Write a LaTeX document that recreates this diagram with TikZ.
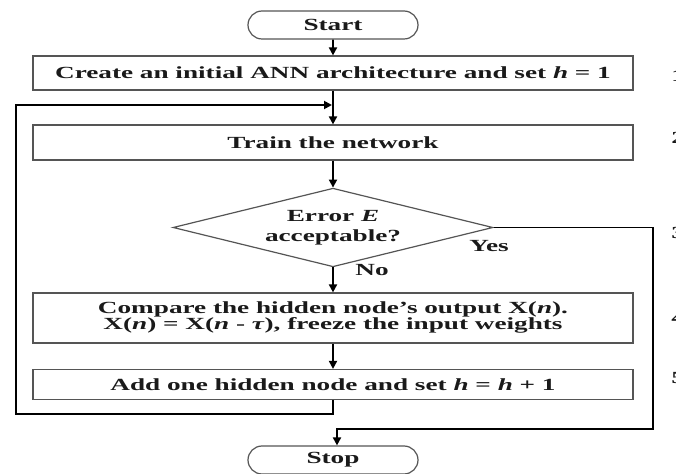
\documentclass[tikz,border=0pt]{standalone}
\usepackage{fontspec}
\setmainfont{Liberation Serif}
\usetikzlibrary{shapes.geometric,shapes.misc,arrows.meta}
\definecolor{boxgray}{HTML}{555555}
\definecolor{textc}{HTML}{1A1A1A}
\newcommand\wtxt[1]{\scalebox{1.6}[1]{#1}}
\begin{document}
\begin{tikzpicture}[x=0.75pt,y=-0.75pt,
  every node/.append style={font=\fontsize{12.75}{15}\selectfont\bfseries, text=textc},
  procbox/.style={draw=boxgray, line width=0.9pt, minimum width=450pt, inner sep=0pt, fill=white},
  term/.style={draw=boxgray, line width=0.9pt, rounded rectangle, minimum width=127.5pt, minimum height=21pt, inner sep=0pt},
  dec/.style={draw=boxgray, line width=0.9pt, diamond, aspect=3.9, minimum width=240pt, minimum height=59pt, inner sep=0pt},
  conn/.style={line width=1.4pt, draw=black},
  arr/.style={conn, -{Triangle[length=6pt,width=6pt]}},
  lbl/.style={inner sep=0pt}
]
\useasboundingbox (0,0) rectangle (676,474);
\fill[white] (0,0) rectangle (676,474);

\node[term] (start) at (333,25) {\wtxt{Start}};
\node[procbox, minimum height=25.5pt] (b1) at (333,73) {\wtxt{Create an initial ANN architecture and set \textit{h} = 1}};
\node[procbox, minimum height=26.25pt] (b2) at (333,142.5) {\wtxt{Train the network}};
\node[dec] (d) at (333,227.5) {\wtxt{\begin{tabular}{@{}c@{}}Error \textit{E}\\acceptable?\end{tabular}}};
\node[procbox, minimum height=37.5pt] (b3) at (333,318) {\wtxt{\begin{tabular}{@{}c@{}}Compare the hidden node’s output X(\textit{n}).\\[-3pt]X(\textit{n}) = X(\textit{n} - \textit{τ}), freeze the input weights\end{tabular}}};
\node[procbox, minimum height=22.5pt] (b4) at (333,384.5) {\wtxt{Add one hidden node and set \textit{h} = \textit{h} + 1}};
\node[term] (stop) at (333,460) {\wtxt{Stop}};

\node[lbl] (yes) at (489,246) {\wtxt{Yes}};
\node[lbl] (no) at (372,270) {\wtxt{No}};

\node[lbl, anchor=west] (n1) at (671,76) {\wtxt{1}};
\node[lbl, anchor=west] (n2) at (671,138) {\wtxt{2}};
\node[lbl, anchor=west] (n3) at (671,233) {\wtxt{3}};
\node[lbl, anchor=west] (n4) at (671,318) {\wtxt{4}};
\node[lbl, anchor=west] (n5) at (671,378) {\wtxt{5}};

\coordinate (jn) at (332,105);
\coordinate (lt) at (16,105);
\coordinate (lb) at (16,414);
\coordinate (yr) at (653,429);
\coordinate (yl) at (337,429);

\draw[arr] (start) -- (b1);
\draw[arr] (b1) -- (b2);
\draw[arr] (b2) -- (d);
\draw[arr] (d) -- (b3);
\draw[arr] (b3) -- (b4);
\draw[arr] (b4.south) |- (lb) -- (lt) -- (jn);
\draw[arr] (d.east) -| (yr) -- (yl) -- (yl |- stop.north);
\end{tikzpicture}
\end{document}
